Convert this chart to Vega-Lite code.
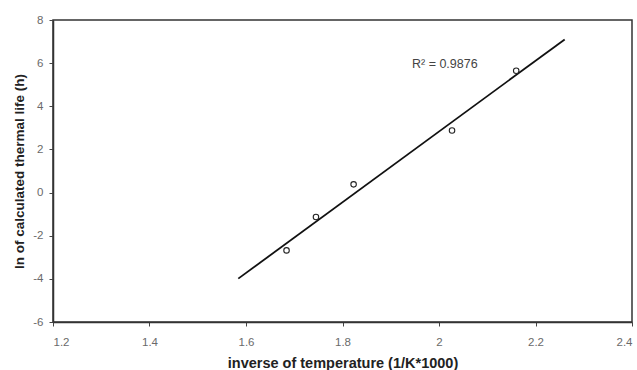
{
  "$schema": "https://vega.github.io/schema/vega-lite/v6.json",
  "autosize": {"type": "none"},
  "width": 579,
  "height": 302,
  "padding": {"left": 53, "top": 20, "right": 5, "bottom": 48},
  "background": "white",
  "config": {
    "view": {"stroke": "#333", "strokeWidth": 1.5},
    "font": "Liberation Sans",
    "axis": {
      "grid": false,
      "domainColor": "#333",
      "domainWidth": 1.5,
      "tickColor": "#444",
      "tickSize": 4,
      "labelFont": "Liberation Sans",
      "labelFontSize": 11.5,
      "labelColor": "#6a6a6a",
      "titleFont": "Liberation Sans",
      "titleFontSize": 13.5,
      "titleFontWeight": "bold",
      "titleColor": "#222"
    }
  },
  "datasets": {
    "points": [
      {"x": 1.684, "y": -2.68},
      {"x": 1.745, "y": -1.13},
      {"x": 1.823, "y": 0.38},
      {"x": 2.027, "y": 2.88},
      {"x": 2.160, "y": 5.65}
    ],
    "fit": [
      {"x": 1.584, "y": -3.99},
      {"x": 2.2605, "y": 7.1}
    ],
    "label": [
      {"x": 1.944, "y": 5.95, "t": "R² = 0.9876"}
    ]
  },
  "layer": [
    {
      "data": {"name": "fit"},
      "mark": {"type": "line", "color": "#111", "strokeWidth": 1.8},
      "encoding": {
        "x": {"field": "x", "type": "quantitative", "scale": {"domain": [1.2, 2.4], "nice": false, "zero": false},
              "axis": {"values": [1.2, 1.4, 1.6, 1.8, 2, 2.2, 2.4], "title": "inverse of temperature (1/K*1000)", "labelPadding": 10, "titlePadding": 9, "titleFontSize": 14.5, "labelExpr": "datum.value + ''"}},
        "y": {"field": "y", "type": "quantitative", "scale": {"domain": [-6, 8], "nice": false, "zero": false},
              "axis": {"values": [-6, -4, -2, 0, 2, 4, 6, 8], "title": "ln of calculated thermal life (h)", "labelPadding": 6, "titlePadding": 6, "labelExpr": "datum.value + ''"}}
      }
    },
    {
      "data": {"name": "points"},
      "mark": {"type": "point", "shape": "circle", "filled": false, "stroke": "#222", "strokeWidth": 1.1, "size": 30, "fill": "white", "opacity": 1},
      "encoding": {
        "x": {"field": "x", "type": "quantitative"},
        "y": {"field": "y", "type": "quantitative"}
      }
    },
    {
      "data": {"name": "label"},
      "mark": {"type": "text", "align": "left", "baseline": "middle", "fontSize": 12.5, "color": "#444", "font": "Liberation Sans"},
      "encoding": {
        "x": {"field": "x", "type": "quantitative"},
        "y": {"field": "y", "type": "quantitative"},
        "text": {"field": "t"}
      }
    }
  ]
}
